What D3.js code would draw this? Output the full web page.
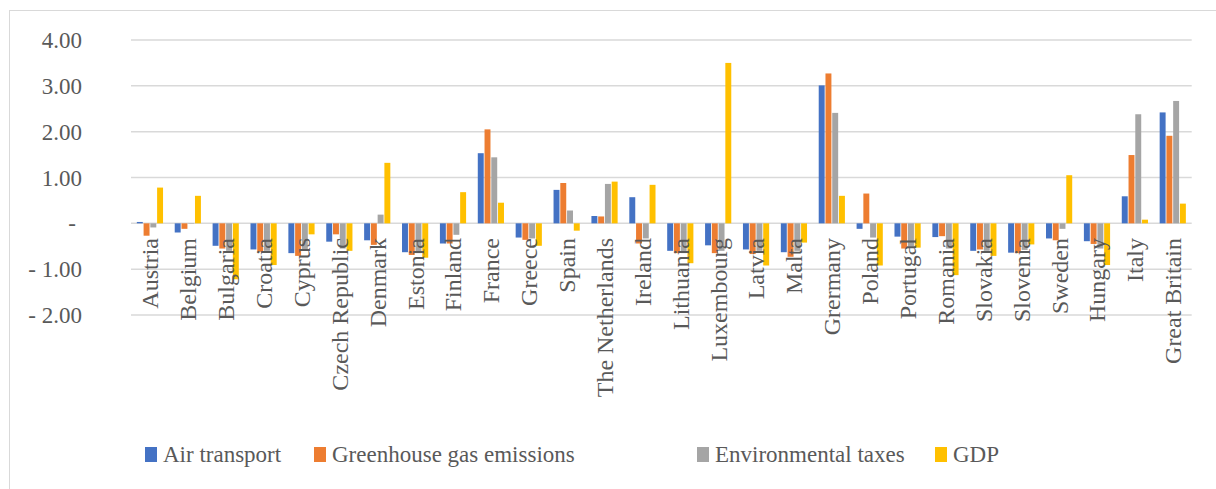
<!DOCTYPE html>
<html>
<head>
<meta charset="utf-8">
<script src="https://cdn.jsdelivr.net/npm/d3@7"></script>
<style>
  body { margin: 0; background: #fff; }
</style>
</head>
<body>
<div id="chart"></div>
<script>
const countries = ['Austria', 'Belgium', 'Bulgaria', 'Croatia', 'Cyprus', 'Czech Republic', 'Denmark',
  'Estonia', 'Finland', 'France', 'Greece', 'Spain', 'The Netherlands', 'Ireland', 'Lithuania',
  'Luxembourg', 'Latvia', 'Malta', 'Grermany', 'Poland', 'Portugal', 'Romania', 'Slovakia',
  'Slovenia', 'Sweden', 'Hungary', 'Italy', 'Great Britain'];

const airTransport = [0.03, -0.20, -0.49, -0.57, -0.65, -0.40, -0.37, -0.63, -0.44, 1.53, -0.31, 0.73, 0.16, 0.57,
  -0.60, -0.48, -0.57, -0.63, 3.01, -0.12, -0.29, -0.30, -0.60, -0.64, -0.33, -0.39, 0.59, 2.42];
const greenhouse = [-0.27, -0.12, -0.55, -0.62, -0.71, -0.24, -0.47, -0.69, -0.44, 2.05, -0.36, 0.88, 0.15, -0.44,
  -0.65, -0.65, -0.67, -0.73, 3.27, 0.65, -0.55, -0.28, -0.57, -0.65, -0.37, -0.45, 1.49, 1.91];
const envTaxes = [-0.09, -0.01, -0.60, -0.60, -0.60, -0.55, 0.19, -0.65, -0.25, 1.44, -0.33, 0.28, 0.86, -0.33,
  -0.65, -0.60, -0.60, -0.60, 2.41, -0.31, -0.50, -0.55, -0.60, -0.58, -0.12, -0.55, 2.38, 2.67];
const gdp = [0.78, 0.60, -1.22, -0.91, -0.24, -0.60, 1.32, -0.75, 0.68, 0.45, -0.49, -0.16, 0.91, 0.84,
  -0.87, 3.50, -0.92, -0.42, 0.60, -0.92, -0.53, -1.13, -0.71, -0.46, 1.05, -0.91, 0.08, 0.43];

const seriesNames = ['Air transport', 'Greenhouse gas emissions', 'Environmental taxes', 'GDP'];
const yTicks = [-2, -1, 0, 1, 2, 3, 4];

const width = 1216, height = 489;
const colors = ['#4472C4', '#ED7D31', '#A5A5A5', '#FFC000'];
const series = [airTransport, greenhouse, envTaxes, gdp];
const fontFam = "'Liberation Serif', 'DejaVu Serif', 'Noto Serif', 'Times New Roman', Times, Georgia, serif";

const svg = d3.select('#chart').append('svg').attr('width', width).attr('height', height)
  .attr('font-family', fontFam);

// chart frame (only top/left edges are visible)
svg.append('rect')
  .attr('x', 9.5).attr('y', 10.5)
  .attr('width', 1300).attr('height', 600)
  .attr('fill', 'none').attr('stroke', '#d9d9d9');

const x0 = d3.scaleBand().domain(countries).range([131, 1191.7]).paddingInner(0).paddingOuter(0);
const groupW = 26.2;
const x1 = d3.scaleBand().domain(d3.range(4))
  .range([(x0.bandwidth() - groupW) / 2, (x0.bandwidth() + groupW) / 2]).paddingInner(0.12);
const y = d3.scaleLinear().domain([-2, 4]).range([315, 40]);

// gridlines
svg.append('g').selectAll('line').data(yTicks).enter().append('line')
  .attr('x1', 131).attr('x2', 1191.7)
  .attr('y1', d => y(d)).attr('y2', d => y(d))
  .attr('stroke', '#d9d9d9').attr('stroke-width', 1.5);

// y labels, accounting style
function fmt(v) {
  if (v === 0) return '-';
  return v < 0 ? '- ' + Math.abs(v).toFixed(2) : v.toFixed(2);
}
svg.append('g').selectAll('text').data(yTicks).enter().append('text')
  .attr('x', d => d === 0 ? 76 : 82)
  .attr('y', d => y(d))
  .attr('dy', '0.35em')
  .attr('text-anchor', 'end')
  .attr('fill', '#595959')
  .style('font-family', fontFam)
  .style('font-size', '23px')
  .text(fmt);

// bars
const groups = svg.append('g').selectAll('g').data(countries).enter().append('g')
  .attr('transform', d => 'translate(' + x0(d) + ',0)');
groups.selectAll('rect')
  .data((d, i) => series.map((s, k) => ({ k: k, v: s[i] })))
  .enter().append('rect')
  .attr('x', d => x1(d.k))
  .attr('width', x1.bandwidth())
  .attr('y', d => y(Math.max(0, d.v)))
  .attr('height', d => Math.abs(y(d.v) - y(0)))
  .attr('fill', d => colors[d.k]);

// category labels, rotated, just below zero line
svg.append('g').selectAll('text').data(countries).enter().append('text')
  .attr('transform', d => 'translate(' + (x0(d) + x0.bandwidth() / 2) + ',238) rotate(-90)')
  .attr('dy', '0.35em')
  .attr('text-anchor', 'end')
  .attr('fill', '#595959')
  .style('font-family', fontFam)
  .style('font-size', '24px')
  .text(d => d);

// legend
const legendX = [145, 314, 697, 935];
const legend = svg.append('g').selectAll('g').data(seriesNames).enter().append('g')
  .attr('transform', (d, i) => 'translate(' + legendX[i] + ',0)');
legend.append('rect')
  .attr('x', 0).attr('y', 447).attr('width', 12).attr('height', 15)
  .attr('fill', (d, i) => colors[i]);
legend.append('text')
  .attr('x', 18).attr('y', 462)
  .attr('fill', '#595959')
  .style('font-family', fontFam)
  .style('font-size', '23px')
  .text(d => d);
</script>
</body>
</html>
